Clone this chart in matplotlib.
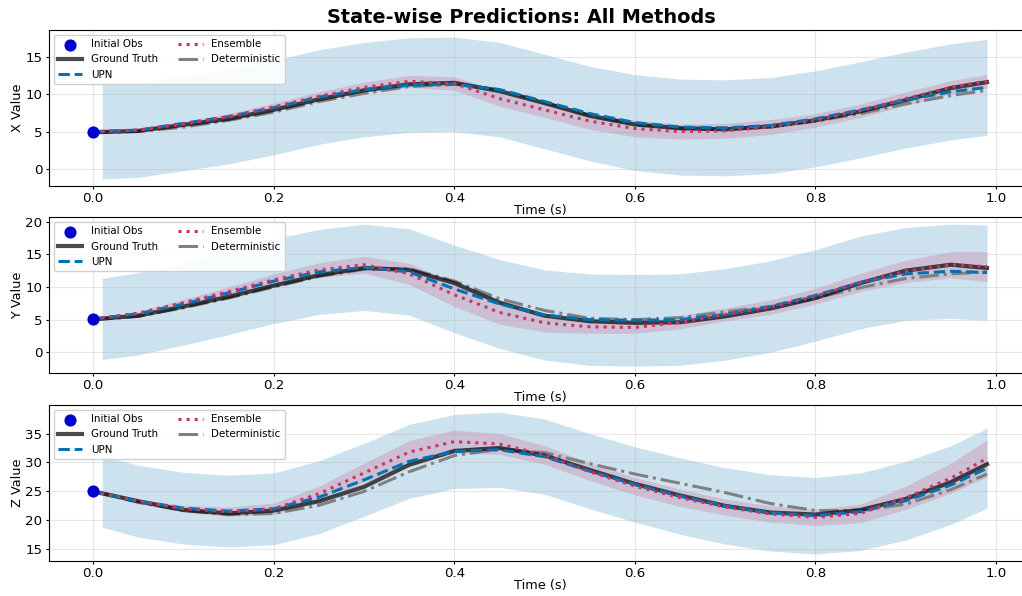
import numpy as np
import matplotlib
matplotlib.use("Agg")
import matplotlib.pyplot as plt
from matplotlib.ticker import MultipleLocator

# time grid (s): lines start at the initial observation, bands at the first prediction step
t = np.array([0.00, 0.05, 0.10, 0.15, 0.20, 0.25, 0.30, 0.35, 0.40, 0.45, 0.50,
              0.55, 0.60, 0.65, 0.70, 0.75, 0.80, 0.85, 0.90, 0.95, 0.99])
t_band = np.array([0.01, 0.05, 0.10, 0.15, 0.20, 0.25, 0.30, 0.35, 0.40, 0.45, 0.50,
                   0.55, 0.60, 0.65, 0.70, 0.75, 0.80, 0.85, 0.90, 0.95, 0.99])

initial_obs = [4.9, 5.05, 25.0]
state_labels = ["X Value", "Y Value", "Z Value"]

# --- X ---
gt_x = [4.9, 5.1, 5.9, 6.7, 7.9, 9.3, 10.5, 11.3, 11.5, 10.4, 8.8,
        7.1, 5.95, 5.45, 5.3, 5.7, 6.5, 7.7, 9.2, 10.8, 11.6]
upn_x = [5.0, 5.2, 6.1, 7.0, 8.2, 9.6, 10.6, 11.2, 11.3, 10.6, 9.0,
         7.4, 6.2, 5.6, 5.5, 5.8, 6.7, 7.9, 9.2, 10.3, 10.9]
ens_x = [5.0, 5.2, 6.0, 7.0, 8.3, 9.7, 10.9, 11.7, 11.4, 9.4, 7.9,
         6.4, 5.4, 5.0, 5.1, 5.6, 6.5, 7.8, 9.4, 10.9, 11.7]
det_x = [4.9, 5.0, 5.6, 6.5, 7.6, 9.0, 10.1, 11.0, 11.3, 10.6, 8.9,
         7.2, 6.0, 5.4, 5.3, 5.6, 6.4, 7.4, 8.7, 9.8, 10.5]
upn_hw_x = [6.3, 6.3, 6.3, 6.3, 6.3, 6.3, 6.3, 6.3, 6.3, 6.3, 6.3,
            6.3, 6.4, 6.4, 6.4, 6.4, 6.4, 6.4, 6.4, 6.4, 6.4]
ens_hw_x = [0.1, 0.2, 0.3, 0.4, 0.5, 0.6, 0.7, 0.8, 0.9, 1.0, 1.0,
            1.1, 1.1, 1.0, 1.0, 1.0, 0.9, 0.9, 0.9, 0.9, 0.9]

# --- Y ---
gt_y = [5.05, 5.6, 7.0, 8.5, 10.2, 11.8, 12.9, 12.6, 10.6, 7.6, 5.6,
        4.75, 4.5, 4.6, 5.5, 6.7, 8.3, 10.6, 12.5, 13.4, 12.9]
upn_y = [5.1, 5.9, 7.4, 9.1, 10.9, 12.3, 13.0, 12.3, 9.7, 7.4, 5.7,
         5.0, 4.9, 5.0, 5.8, 7.0, 8.7, 10.7, 12.0, 12.4, 12.2]
ens_y = [5.1, 6.0, 7.6, 9.3, 11.1, 12.6, 13.4, 12.0, 8.8, 6.1, 4.5,
         3.9, 3.8, 4.6, 5.8, 6.9, 8.6, 10.7, 12.4, 13.4, 13.1]
det_y = [5.0, 5.5, 6.8, 8.3, 10.0, 11.6, 12.7, 12.8, 10.9, 8.2, 6.4,
         5.2, 5.0, 5.3, 6.2, 7.0, 8.3, 9.9, 11.3, 12.0, 12.3]
upn_hw_y = [6.2, 6.3, 6.3, 6.4, 6.5, 6.5, 6.6, 6.6, 6.7, 6.8, 6.9,
            7.0, 7.0, 7.0, 7.0, 7.0, 7.0, 7.1, 7.1, 7.2, 7.3]
ens_hw_y = [0.1, 0.3, 0.5, 0.7, 0.9, 1.1, 1.3, 1.6, 1.8, 1.8, 1.4,
            1.0, 0.9, 1.0, 1.0, 1.1, 1.2, 1.4, 1.7, 2.0, 2.3]

# --- Z ---
gt_z = [25.0, 23.3, 21.8, 21.2, 21.7, 23.3, 25.8, 29.6, 32.0, 32.5, 31.2,
        28.7, 26.3, 24.3, 22.5, 21.35, 21.0, 21.8, 23.7, 26.6, 29.7]
upn_z = [25.0, 23.3, 22.1, 21.6, 22.0, 24.0, 27.0, 30.2, 31.9, 32.2, 31.0,
         28.5, 26.2, 24.2, 22.5, 21.3, 20.8, 21.5, 23.4, 26.1, 29.0]
ens_z = [25.0, 23.3, 22.0, 21.5, 22.0, 24.6, 28.2, 31.8, 33.6, 33.2, 31.3,
         28.4, 25.9, 23.9, 22.3, 21.1, 20.5, 21.2, 23.9, 27.3, 30.7]
det_z = [25.0, 23.1, 21.7, 21.0, 21.2, 22.6, 25.0, 28.4, 31.2, 32.3, 31.7,
         29.8, 28.0, 26.4, 24.8, 22.9, 21.7, 21.7, 22.8, 25.3, 28.0]
upn_hw_z = [6.2, 6.2, 6.2, 6.2, 6.2, 6.3, 6.3, 6.4, 6.4, 6.5, 6.5,
            6.5, 6.5, 6.6, 6.6, 6.6, 6.6, 6.7, 6.8, 6.8, 6.9]
ens_hw_z = [0.1, 0.4, 0.6, 0.8, 1.0, 1.3, 1.7, 2.0, 2.0, 1.8, 1.6,
            1.5, 1.5, 1.5, 1.4, 1.4, 1.4, 1.6, 2.0, 2.6, 3.2]

panels = [
    (gt_x, upn_x, ens_x, det_x, upn_hw_x, ens_hw_x),
    (gt_y, upn_y, ens_y, det_y, upn_hw_y, ens_hw_y),
    (gt_z, upn_z, ens_z, det_z, upn_hw_z, ens_hw_z),
]

upn_color = "#0072B2"
ens_color = "#CC3366"

fig = plt.figure(figsize=(10.22, 5.96), dpi=100)
bottoms = [0.688, 0.374, 0.0587]

for i, (gt, upn, ens, det, upn_hw, ens_hw) in enumerate(panels):
    # right edge runs past the canvas, as in the (cropped) original
    ax = fig.add_axes([0.0475, bottoms[i], 0.962, 0.2617])
    upn_b = np.array(upn)
    ens_b = np.array(ens)
    ax.fill_between(t_band, upn_b - np.array(upn_hw), upn_b + np.array(upn_hw),
                    color=upn_color, alpha=0.2, linewidth=0)
    ax.fill_between(t_band, ens_b - np.array(ens_hw), ens_b + np.array(ens_hw),
                    color=ens_color, alpha=0.2, linewidth=0)

    ax.scatter([0.0], [initial_obs[i]], color="#0000CC", s=60, zorder=6, label="Initial Obs")
    ax.plot(t, gt, color="black", alpha=0.7, linewidth=3, label="Ground Truth", zorder=4)
    ax.plot(t, upn, color=upn_color, linestyle="--", linewidth=2.2, label="UPN", zorder=5)
    ax.plot(t, ens, color=ens_color, linestyle=":", linewidth=2.2, label="Ensemble", zorder=5)
    ax.plot(t, det, color="gray", linestyle="-.", linewidth=2.2, label="Deterministic", zorder=3)

    ax.yaxis.set_major_locator(MultipleLocator(5))
    ax.set_ylabel(state_labels[i], fontsize=9.3, labelpad=1)
    ax.set_xlabel("Time (s)", fontsize=9.3, labelpad=-1)
    ax.tick_params(labelsize=9.6, length=2.5, pad=2)
    ax.grid(True, alpha=0.3)
    ax.legend(loc="upper left", ncol=2, fontsize=7.4, framealpha=0.9,
              borderpad=0.4, labelspacing=0.5, handlelength=2.4, columnspacing=2.0)

fig.text(0.51, 0.971, "State-wise Predictions: All Methods", ha="center", va="center",
         fontsize=13.9, fontweight="bold")

fig.savefig("out.png", dpi=100)
